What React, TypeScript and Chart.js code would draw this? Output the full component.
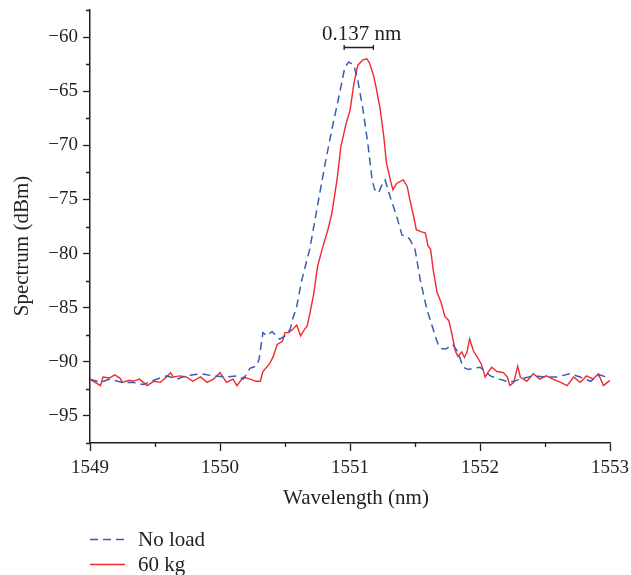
import React, { useEffect, useRef } from 'react';
import { Chart, registerables } from 'chart.js';

Chart.register(...registerables);

// ---------- data ----------
const noLoadX = [
  1549.0, 1549.08, 1549.15, 1549.25, 1549.33, 1549.41, 1549.49, 1549.59, 1549.67, 1549.74,
  1549.85, 1549.95, 1550.05, 1550.13, 1550.18, 1550.23, 1550.28, 1550.3, 1550.33, 1550.36,
  1550.4, 1550.44, 1550.46, 1550.5, 1550.54, 1550.56, 1550.59, 1550.63, 1550.69, 1550.75,
  1550.81, 1550.87, 1550.92, 1550.96, 1550.99, 1551.03, 1551.06, 1551.1, 1551.14, 1551.17,
  1551.19, 1551.22, 1551.24, 1551.27, 1551.31, 1551.36, 1551.4, 1551.44, 1551.46, 1551.5,
  1551.54, 1551.59, 1551.64, 1551.68, 1551.71, 1551.74, 1551.79, 1551.83, 1551.87, 1551.91,
  1552.0, 1552.08, 1552.15, 1552.23, 1552.31, 1552.41, 1552.51, 1552.59, 1552.69, 1552.77,
  1552.85, 1552.92, 1552.97,
];
const noLoadY = [
  -91.6, -91.9, -91.6, -91.9, -91.9, -92.1, -91.7, -91.3, -91.6, -91.3,
  -91.1, -91.3, -91.4, -91.3, -91.6, -90.6, -90.4, -89.8, -87.3, -87.6,
  -87.2, -87.7, -87.9, -87.6, -87.0, -86.0, -84.9, -82.4, -79.6, -75.6,
  -71.6, -68.0, -65.2, -62.8, -62.3, -62.6, -64.0, -66.7, -70.1, -73.2,
  -74.1, -74.4, -73.8, -73.2, -74.8, -76.6, -78.3, -78.4, -78.7, -79.6,
  -82.4, -85.1, -87.0, -88.5, -88.8, -88.8, -88.4, -89.1, -90.5, -90.7,
  -90.5, -91.3, -91.6, -91.9, -91.6, -91.3, -91.4, -91.4, -91.1, -91.4,
  -91.8, -91.2, -91.4,
];

const loadX = [
  1549.0, 1549.04, 1549.08, 1549.1, 1549.15, 1549.19, 1549.23, 1549.25, 1549.3, 1549.33,
  1549.38, 1549.44, 1549.49, 1549.54, 1549.59, 1549.62, 1549.64, 1549.69, 1549.74, 1549.79,
  1549.85, 1549.9, 1549.95, 1550.0, 1550.05, 1550.1, 1550.13, 1550.18, 1550.23, 1550.28,
  1550.31, 1550.33, 1550.38, 1550.41, 1550.44, 1550.48, 1550.5, 1550.53, 1550.56, 1550.59,
  1550.62, 1550.65, 1550.67, 1550.69, 1550.72, 1550.75, 1550.79, 1550.83, 1550.86, 1550.9,
  1550.93, 1550.97, 1551.0, 1551.03, 1551.06, 1551.1, 1551.13, 1551.15, 1551.18, 1551.2,
  1551.23, 1551.26, 1551.28, 1551.31, 1551.33, 1551.36, 1551.41, 1551.44, 1551.46, 1551.49,
  1551.51, 1551.55, 1551.58, 1551.6, 1551.62, 1551.64, 1551.67, 1551.7, 1551.73, 1551.76,
  1551.78, 1551.81, 1551.83, 1551.86, 1551.88, 1551.9, 1551.92, 1551.95, 1551.98, 1552.01,
  1552.04, 1552.06, 1552.09, 1552.13, 1552.18, 1552.21, 1552.23, 1552.26, 1552.29, 1552.31,
  1552.36, 1552.41, 1552.46, 1552.51, 1552.56, 1552.62, 1552.67, 1552.72, 1552.77, 1552.82,
  1552.87, 1552.91, 1552.95, 1552.98, 1553.0,
];
const loadY = [
  -91.6, -91.9, -92.2, -91.4, -91.5, -91.2, -91.5, -91.9, -91.7, -91.8,
  -91.6, -92.2, -91.8, -91.9, -91.4, -91.0, -91.4, -91.3, -91.4, -91.8,
  -91.4, -91.9, -91.6, -91.0, -91.9, -91.6, -92.2, -91.4, -91.6, -91.8,
  -91.8, -90.9, -90.2, -89.5, -88.4, -88.1, -87.3, -87.3, -87.0, -86.6,
  -87.6, -87.0, -86.7, -85.6, -83.8, -81.2, -79.4, -77.8, -76.3, -73.2,
  -70.1, -68.0, -66.8, -64.3, -62.6, -62.1, -62.0, -62.4, -63.5, -64.6,
  -66.5, -69.2, -71.6, -73.2, -74.1, -73.5, -73.2, -73.8, -75.0, -76.6,
  -77.8, -78.0, -78.1, -79.3, -79.6, -81.5, -83.6, -84.5, -85.8, -86.2,
  -87.2, -89.0, -89.5, -89.1, -89.6, -89.1, -87.9, -89.0, -89.6, -90.2,
  -91.4, -91.0, -90.5, -90.9, -91.0, -91.4, -92.2, -91.9, -90.4, -91.4,
  -91.8, -91.1, -91.6, -91.3, -91.6, -91.9, -92.2, -91.4, -91.9, -91.3,
  -91.6, -91.1, -92.2, -91.9, -91.7,
];

const seriesLabels = ['No load', '60 kg'];
const xTickValues = [1549, 1550, 1551, 1552, 1553];
const yTickValues = [-95, -90, -85, -80, -75, -70, -65, -60];
const xMinorValues = [1549.5, 1550.5, 1551.5, 1552.5];
const yMinorValues = [-97.5, -92.5, -87.5, -82.5, -77.5, -72.5, -67.5, -62.5, -57.5];
const xTitle = 'Wavelength (nm)';
const yTitle = 'Spectrum (dBm)';
const shiftLabel = '0.137 nm';
const shiftFrom = 1550.955;
const shiftTo = 1551.18;
const shiftLevel = -60.95;

// ---------- styles ----------
const INK = '#231f20';
const BLUE = '#3a5cb4';
const RED = '#ee2a2e';
const FAMILY = "'Liberation Serif', 'Times New Roman', serif";
const TICK_SIZE = 19;
const TEXT_SIZE = 21;

const overlayPlugin = {
  id: 'overlay',
  afterDraw(chart: any) {
    const { ctx, chartArea, scales } = chart;
    const xs = scales.x;
    const ys = scales.y;
    ctx.save();
    ctx.strokeStyle = INK;
    ctx.lineWidth = 1.3;
    ctx.setLineDash([]);
    // minor ticks
    ctx.beginPath();
    xMinorValues.forEach((v) => {
      const px = Math.round(xs.getPixelForValue(v)) + 0.5;
      ctx.moveTo(px, chartArea.bottom);
      ctx.lineTo(px, chartArea.bottom + 4);
    });
    yMinorValues.forEach((v) => {
      const py = Math.round(ys.getPixelForValue(v)) + 0.5;
      ctx.moveTo(chartArea.left - 4, py);
      ctx.lineTo(chartArea.left, py);
    });
    ctx.stroke();

    // axis titles
    ctx.fillStyle = INK;
    ctx.font = `${TEXT_SIZE}px ${FAMILY}`;
    ctx.textAlign = 'center';
    ctx.textBaseline = 'alphabetic';
    ctx.fillText(xTitle, (chartArea.left + chartArea.right) / 2 + 6, 504);
    ctx.save();
    ctx.translate(28, 246);
    ctx.rotate(-Math.PI / 2);
    ctx.fillText(yTitle, 0, 0);
    ctx.restore();

    // shift annotation
    const x1 = xs.getPixelForValue(shiftFrom);
    const x2 = xs.getPixelForValue(shiftTo);
    const yb = Math.round(ys.getPixelForValue(shiftLevel)) + 0.5;
    ctx.beginPath();
    ctx.moveTo(x1, yb);
    ctx.lineTo(x2, yb);
    ctx.moveTo(x1, yb - 2.5);
    ctx.lineTo(x1, yb + 2.5);
    ctx.moveTo(x2, yb - 2.5);
    ctx.lineTo(x2, yb + 2.5);
    ctx.stroke();
    ctx.fillText(shiftLabel, (x1 + x2) / 2 + 3, yb - 7.5);

    // legend
    const colors = [BLUE, RED];
    const dashes = [[8, 5], []];
    const rows = [539, 564];
    seriesLabels.forEach((label, i) => {
      ctx.strokeStyle = colors[i];
      ctx.lineWidth = 1.5;
      ctx.setLineDash(dashes[i]);
      ctx.beginPath();
      ctx.moveTo(90, rows[i] + 0.5);
      ctx.lineTo(125, rows[i] + 0.5);
      ctx.stroke();
      ctx.setLineDash([]);
      ctx.fillStyle = INK;
      ctx.textAlign = 'left';
      ctx.fillText(label, 138, rows[i] + 6.5);
    });
    ctx.restore();
  },
};

export default function App() {
  const canvasRef = useRef<HTMLCanvasElement | null>(null);

  useEffect(() => {
    const canvas = canvasRef.current;
    if (!canvas) return;
    const chart = new Chart(canvas, {
      type: 'line',
      data: {
        datasets: [
          {
            label: seriesLabels[0],
            data: noLoadX.map((x, i) => ({ x, y: noLoadY[i] })),
            borderColor: BLUE,
            borderWidth: 1.5,
            borderDash: [8, 5],
            pointRadius: 0,
            tension: 0,
            fill: false,
          },
          {
            label: seriesLabels[1],
            data: loadX.map((x, i) => ({ x, y: loadY[i] })),
            borderColor: RED,
            borderWidth: 1.4,
            pointRadius: 0,
            tension: 0,
            fill: false,
          },
        ],
      },
      options: {
        responsive: false,
        animation: false,
        devicePixelRatio: 1,
        layout: { padding: { left: 0, right: 21, top: 10, bottom: 0 } },
        plugins: { legend: { display: false }, tooltip: { enabled: false } },
        scales: {
          x: {
            type: 'linear',
            min: 1549,
            max: 1553,
            afterBuildTicks: (s: any) => {
              s.ticks = xTickValues.map((value) => ({ value }));
            },
            afterFit: (s: any) => {
              s.height = 132;
              s.paddingLeft = 0;
              s.paddingRight = 0;
            },
            grid: {
              display: true,
              drawOnChartArea: false,
              drawTicks: true,
              tickLength: 8,
              tickColor: INK,
              tickWidth: 1.3,
            },
            border: { display: true, color: INK, width: 1.5 },
            ticks: {
              color: INK,
              padding: 6,
              maxRotation: 0,
              font: { family: FAMILY, size: TICK_SIZE },
              callback: (v: any) => String(v),
            },
          },
          y: {
            type: 'linear',
            min: -97.5,
            max: -57.5,
            afterBuildTicks: (s: any) => {
              s.ticks = yTickValues.map((value) => ({ value }));
            },
            afterFit: (s: any) => {
              s.width = 90;
              s.paddingTop = 0;
              s.paddingBottom = 0;
            },
            grid: {
              display: true,
              drawOnChartArea: false,
              drawTicks: true,
              tickLength: 7,
              tickColor: INK,
              tickWidth: 1.3,
            },
            border: { display: true, color: INK, width: 1.5 },
            ticks: {
              color: INK,
              padding: 5,
              font: { family: FAMILY, size: TICK_SIZE },
              callback: (v: any) => String(v).replace('-', '\u2212'),
            },
          },
        },
      },
      plugins: [overlayPlugin],
    });
    return () => chart.destroy();
  }, []);

  return (
    <div style={{ position: 'absolute', left: 0, top: 0, width: 631, height: 575, background: '#fff' }}>
      <canvas ref={canvasRef} width={631} height={575} style={{ display: 'block' }} />
    </div>
  );
}
